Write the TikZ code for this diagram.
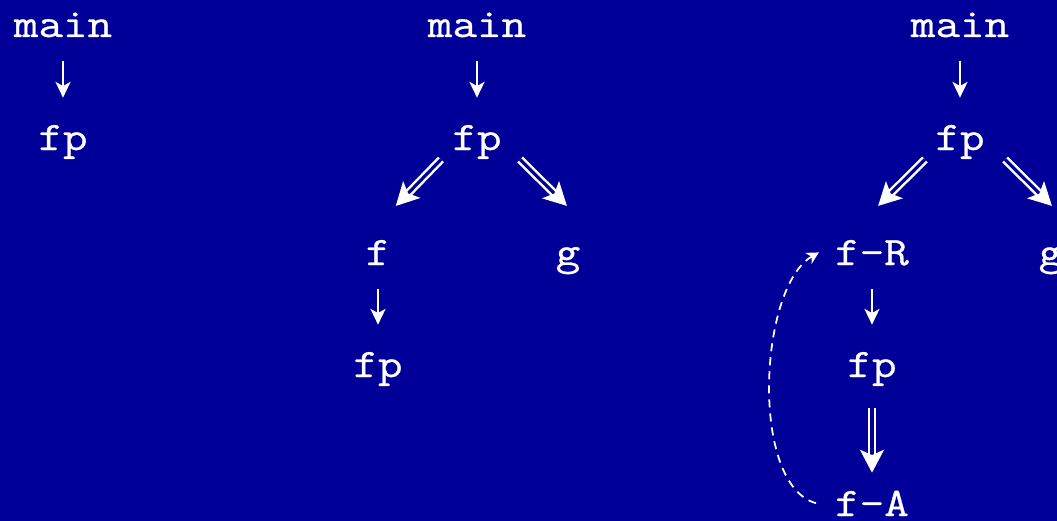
\documentclass[tikz,border=0pt]{standalone}
\usepackage{fontspec}
\setmonofont{Latin Modern Mono}[FakeStretch=1.18,FakeBold=0.7]
\usetikzlibrary{arrows.meta}
\definecolor{slideblue}{RGB}{0,0,153}

\begin{document}
\begin{tikzpicture}[x=0.01cm,y=-0.01cm,
    fn/.style={text=white,font=\fontsize{11.5}{14}\selectfont\ttfamily,inner sep=0pt,anchor=base,text height=7pt,text depth=2.5pt},
    call/.style={white,line width=0.55pt,-{Stealth[length=4.5pt,width=4.3pt,inset=1.2pt]},shorten <=0.14cm,shorten >=0.27cm},
    dcall/.style={white,line width=0.7pt,double=slideblue,double distance=0.9pt,-{Stealth[length=6.5pt,width=6.8pt,inset=1.5pt]}},
    back/.style={white,line width=0.5pt,dash pattern=on 2.3pt off 1.7pt,-{Stealth[length=3.4pt,width=3.6pt,inset=1pt]},shorten <=0.19cm,shorten >=0.18cm}]
        \fill[slideblue] (0,0) rectangle (1057,521);
        \clip (0,0) rectangle (1057,521);
        % first step
        \node[fn] (main1) at (63,37) {main};
        \node[fn] (fp1) at (63,150) {fp};
        \draw[call] (main1) -- (fp1);
        % second step
        \node[fn] (main2) at (477,37) {main};
        \node[fn] (fp2) at (477,150) {fp};
        \node[fn] (f2) at (378,265) {f};
        \node[fn] (g2) at (568,265) {g};
        \node[fn] (fpf2) at (378,377) {fp};
        \draw[call] (main2) -- (fp2);
        \draw[dcall,shorten >=0.47cm] ([xshift=-0.36cm]fp2.south) -- ([xshift=-0.15cm]f2.north);
        \draw[dcall,shorten >=0.48cm] ([xshift=0.43cm]fp2.south) -- ([xshift=0.33cm]g2.north);
        \draw[call] (f2) -- (fpf2);
        % third step
        \node[fn] (main3) at (960,37) {main};
        \node[fn] (fp3) at (960,150) {fp};
        \node[fn] (fR) at (872,265) {f-R};
        \node[fn] (g3) at (1051,265) {g};
        \node[fn] (fpf3) at (872,377) {fp};
        \node[fn] (fA) at (872,516) {f-A};
        \draw[call] (main3) -- (fp3);
        \draw[dcall,shorten >=0.48cm] ([xshift=-0.35cm]fp3.south) -- ([xshift=-0.28cm]fR.north);
        \draw[dcall,shorten >=0.48cm] ([xshift=0.45cm]fp3.south) -- ([xshift=0.35cm]g3.north);
        \draw[call] (fR) -- (fpf3);
        \draw[dcall,shorten <=0.21cm,shorten >=0.18cm] (fpf3) -- (fA);
        \draw[back] (fA.west) to[out=165,in=210,looseness=0.85] (fR.160);
\end{tikzpicture}
\end{document}
